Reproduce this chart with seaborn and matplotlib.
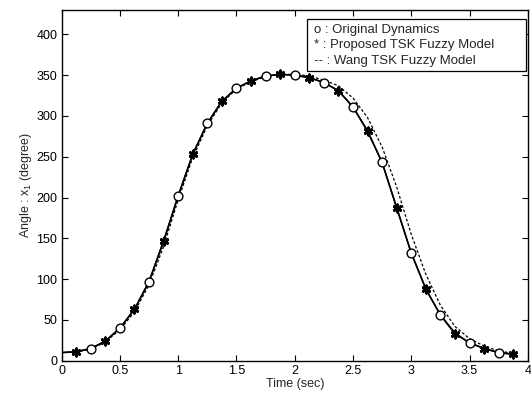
import matplotlib
matplotlib.use("Agg")
import matplotlib.pyplot as plt
import seaborn as sns
import pandas as pd
from matplotlib.patches import Rectangle

# time grid (sec)
t = [0.0, 0.125, 0.25, 0.375, 0.5, 0.625, 0.75, 0.875,
     1.0, 1.125, 1.25, 1.375, 1.5, 1.625, 1.75, 1.875,
     2.0, 2.125, 2.25, 2.375, 2.5, 2.625, 2.75, 2.875,
     3.0, 3.125, 3.25, 3.375, 3.5, 3.625, 3.75, 3.875]

# angle x1 (degree)
original = [10, 11, 15, 24, 40, 63, 97, 146,
            202, 253, 291, 318, 334, 343, 349, 351,
            350, 347, 341, 331, 311, 282, 243, 188,
            132, 88, 56, 34, 22, 15, 10, 8]
proposed = [10, 11, 15, 24, 40, 63, 97, 147,
            202, 253, 291, 318, 334, 343, 349, 351,
            350, 347, 341, 331, 311, 281, 243, 187,
            132, 88, 56, 33, 22, 15, 10, 8]
wang = [10, 11, 14, 23, 38, 60, 93, 140,
        197, 249, 288, 316, 333, 342, 348, 351,
        351, 349, 344, 337, 322, 298, 262, 213,
        155, 106, 68, 42, 27, 18, 12, 9]

df = pd.DataFrame({"t": t, "original": original, "proposed": proposed, "wang": wang})
circ = df.iloc[2:31:2]   # circles every 0.25 s
star = df.iloc[1::2]     # stars on the 0.125 offsets

sns.set_theme(style="ticks")
plt.rcParams["font.family"] = ["Liberation Sans", "DejaVu Sans"]
plt.rcParams["mathtext.fontset"] = "custom"
plt.rcParams["mathtext.rm"] = "Liberation Sans"
plt.rcParams["mathtext.it"] = "Liberation Sans"

fig = plt.figure(figsize=(5.31, 3.96), dpi=100)
ax = fig.add_axes([0.116, 0.089, 0.878, 0.886])

sns.lineplot(data=df, x="t", y="wang", ax=ax, color="black", lw=0.9,
             dashes=False, linestyle=(0, (2.2, 1.6)))
sns.lineplot(data=df, x="t", y="original", ax=ax, color="black", lw=1.1)
sns.lineplot(data=df, x="t", y="proposed", ax=ax, color="black", lw=1.1)
sns.scatterplot(data=circ, x="t", y="original", ax=ax, marker="o", s=40,
                facecolor="white", edgecolor="black", linewidth=1.0, zorder=5)
sns.scatterplot(data=star, x="t", y="proposed", ax=ax, marker=(6, 2, 0), s=28,
                color="black", edgecolor="black", linewidth=2.0, zorder=6)

ax.set_xlim(0, 4)
ax.set_ylim(0, 430)
ax.set_xticks([0, 0.5, 1, 1.5, 2, 2.5, 3, 3.5, 4])
ax.set_xticklabels(["0", "0.5", "1", "1.5", "2", "2.5", "3", "3.5", "4"])
ax.set_yticks(range(0, 401, 50))
ax.tick_params(direction="in", top=True, right=True, length=4, width=0.8,
               labelsize=9, colors="black", pad=3)
for s in ax.spines.values():
    s.set_linewidth(1.0)
    s.set_color("black")
ax.set_xlabel("Time (sec)", fontsize=9, labelpad=1)
ax.set_ylabel("Angle : x$_1$ (degree)", fontsize=9, labelpad=2)

# legend box drawn as text, as in the original figure
ax.add_patch(Rectangle((0.526, 0.827), 0.47, 0.146, transform=ax.transAxes,
                       facecolor="white", edgecolor="black", lw=0.9, zorder=8))
items = ["o : Original Dynamics", "* : Proposed TSK Fuzzy Model", "-- : Wang TSK Fuzzy Model"]
for i, lab in enumerate(items):
    ax.text(0.541, 0.944 - i * 0.045, lab, transform=ax.transAxes, fontsize=9.5,
            va="center", ha="left", zorder=9)

fig.savefig("out.png", dpi=100)
